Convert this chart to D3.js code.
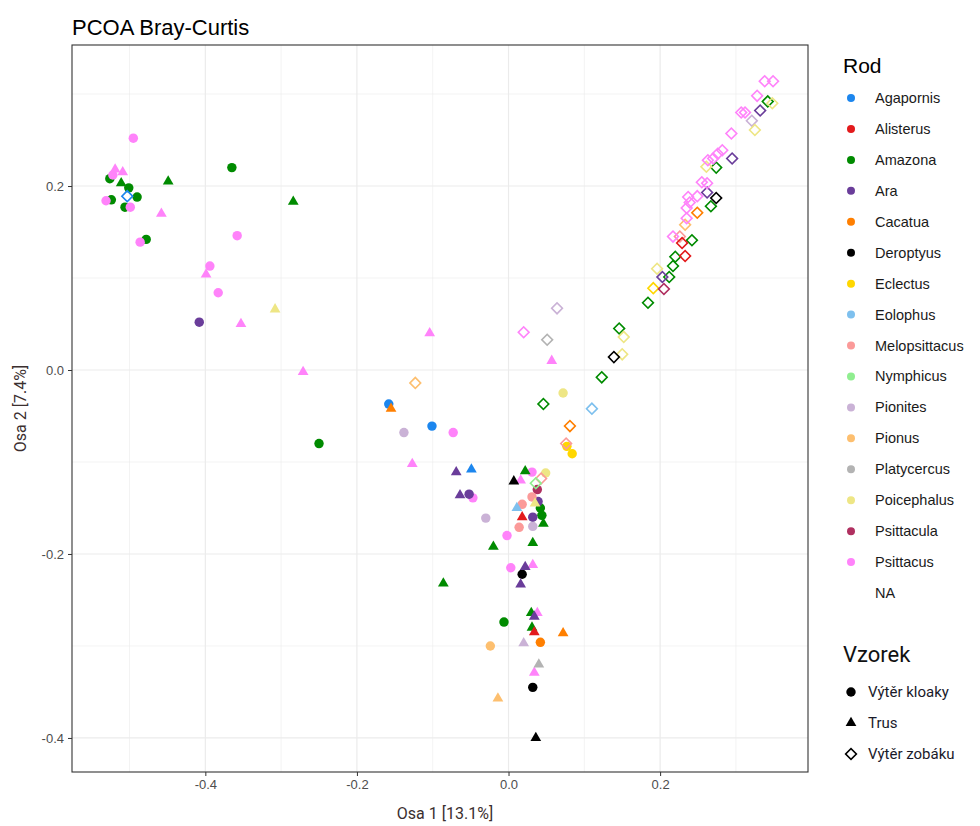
<!DOCTYPE html>
<html>
<head>
<meta charset="utf-8">
<script src="https://cdn.jsdelivr.net/npm/d3@7/dist/d3.min.js"></script>
<style>
  body { margin: 0; background: #fff; }
  svg { display: block; }
</style>
</head>
<body>
<svg id="chart" width="980" height="826"></svg>
<script>
// ---- Categories ----
const genera = ["Agapornis","Alisterus","Amazona","Ara","Cacatua","Deroptyus","Eclectus","Eolophus","Melopsittacus","Nymphicus","Pionites","Pionus","Platycercus","Poicephalus","Psittacula","Psittacus","NA"];
const genusColors = ["#1C86EE","#E31A1C","#008B00","#6A3D9A","#FF7F00","#000000","#FFD700","#7EC0EE","#FB9A99","#90EE90","#CAB2D6","#FDBF6F","#B3B3B3","#EEE685","#B03060","#FF83FA",null];
const sampleTypes = ["Výtěr kloaky","Trus","Výtěr zobáku"];
const xTicks = [-0.4,-0.2,0.0,0.2];
const yTicks = [-0.4,-0.2,0.0,0.2];

// ---- Points: [genus, Osa 1, Osa 2] ----
const cloacaPoints = [
  ["Amazona",-0.526,0.208],["Amazona",-0.501,0.198],["Amazona",-0.490,0.188],["Amazona",-0.524,0.185],
  ["Amazona",-0.506,0.177],["Amazona",-0.365,0.220],["Amazona",-0.478,0.142],["Amazona",-0.250,-0.080],
  ["Amazona",-0.006,-0.274],["Amazona",0.042,-0.150],["Amazona",0.044,-0.158],
  ["Psittacus",-0.495,0.252],["Psittacus",-0.522,0.212],["Psittacus",-0.531,0.184],["Psittacus",-0.499,0.177],
  ["Psittacus",-0.486,0.139],["Psittacus",-0.358,0.146],["Psittacus",-0.394,0.113],["Psittacus",-0.383,0.084],
  ["Psittacus",-0.073,-0.068],["Psittacus",-0.047,-0.139],["Psittacus",-0.002,-0.180],["Psittacus",0.003,-0.215],
  ["Psittacus",0.031,-0.111],
  ["Ara",-0.408,0.052],["Ara",-0.052,-0.135],["Ara",0.039,-0.143],["Ara",0.032,-0.160],
  ["Agapornis",-0.158,-0.037],["Agapornis",-0.101,-0.061],
  ["Pionites",-0.138,-0.068],["Pionites",-0.030,-0.161],["Pionites",0.032,-0.170],
  ["Poicephalus",0.072,-0.025],["Poicephalus",0.049,-0.112],
  ["Eclectus",0.077,-0.083],["Eclectus",0.084,-0.091],
  ["Psittacula",0.038,-0.130],
  ["Melopsittacus",0.031,-0.138],["Melopsittacus",0.018,-0.146],["Melopsittacus",0.014,-0.171],
  ["Deroptyus",0.018,-0.222],["Deroptyus",0.032,-0.345],
  ["Pionus",-0.024,-0.300],
  ["Cacatua",0.042,-0.296]
];
const fecesPoints = [
  ["Psittacus",-0.519,0.218],["Psittacus",-0.509,0.215],["Psittacus",-0.458,0.170],["Psittacus",-0.399,0.104],
  ["Psittacus",-0.353,0.050],["Psittacus",-0.271,-0.002],["Psittacus",-0.104,0.040],["Psittacus",0.057,0.010],
  ["Psittacus",-0.127,-0.102],["Psittacus",0.016,-0.120],["Psittacus",0.032,-0.212],["Psittacus",0.038,-0.264],
  ["Psittacus",0.034,-0.329],
  ["Amazona",-0.511,0.203],["Amazona",-0.449,0.205],["Amazona",-0.284,0.183],["Amazona",0.022,-0.110],
  ["Amazona",0.046,-0.167],["Amazona",0.032,-0.188],["Amazona",-0.020,-0.192],["Amazona",-0.086,-0.232],
  ["Amazona",0.030,-0.264],["Amazona",0.031,-0.280],
  ["Poicephalus",-0.308,0.066],["Poicephalus",0.035,-0.145],
  ["Cacatua",-0.155,-0.042],["Cacatua",0.072,-0.286],
  ["Ara",-0.069,-0.111],["Ara",-0.064,-0.136],["Ara",0.022,-0.214],["Ara",0.016,-0.233],["Ara",0.034,-0.268],
  ["Agapornis",-0.049,-0.108],
  ["Deroptyus",0.007,-0.121],["Deroptyus",0.036,-0.400],
  ["Eolophus",0.011,-0.150],
  ["Alisterus",0.018,-0.160],["Alisterus",0.034,-0.285],
  ["Pionites",0.020,-0.297],
  ["Platycercus",0.040,-0.320],
  ["Pionus",-0.014,-0.357]
];
const beakPoints = [
  ["Agapornis",-0.503,0.189],
  ["Pionus",-0.123,-0.014],["Pionus",0.233,0.158],
  ["Pionites",0.064,0.067],["Pionites",0.321,0.271],
  ["Platycercus",0.051,0.033],
  ["Amazona",0.046,-0.037],["Amazona",0.146,0.045],["Amazona",0.123,-0.008],["Amazona",0.220,0.123],
  ["Amazona",0.217,0.113],["Amazona",0.212,0.101],["Amazona",0.184,0.073],["Amazona",0.242,0.141],
  ["Amazona",0.267,0.178],["Amazona",0.274,0.220],["Amazona",0.342,0.292],
  ["Poicephalus",0.152,0.036],["Poicephalus",0.150,0.017],["Poicephalus",0.196,0.110],["Poicephalus",0.261,0.221],
  ["Poicephalus",0.348,0.290],["Poicephalus",0.325,0.261],
  ["Deroptyus",0.139,0.014],["Deroptyus",0.274,0.187],
  ["Eolophus",0.110,-0.042],
  ["Cacatua",0.081,-0.061],["Cacatua",0.249,0.171],
  ["Melopsittacus",0.076,-0.080],["Melopsittacus",0.226,0.145],["Melopsittacus",0.043,-0.118],
  ["Nymphicus",0.036,-0.123],
  ["Eclectus",0.191,0.089],
  ["Psittacula",0.205,0.088],
  ["Alisterus",0.229,0.138],["Alisterus",0.233,0.124],
  ["Ara",0.203,0.101],["Ara",0.262,0.193],["Ara",0.332,0.282],["Ara",0.295,0.230],
  ["Psittacus",0.020,0.041],["Psittacus",0.255,0.204],["Psittacus",0.262,0.203],["Psittacus",0.249,0.189],
  ["Psittacus",0.239,0.182],["Psittacus",0.235,0.176],["Psittacus",0.235,0.165],["Psittacus",0.217,0.145],
  ["Psittacus",0.338,0.314],["Psittacus",0.349,0.314],["Psittacus",0.328,0.298],["Psittacus",0.307,0.280],
  ["Psittacus",0.312,0.280],["Psittacus",0.294,0.257],["Psittacus",0.282,0.239],["Psittacus",0.276,0.235],
  ["Psittacus",0.270,0.230],["Psittacus",0.263,0.228],["Psittacus",0.237,0.188]
];

// ---- Layout ----
const svg = d3.select("#chart");
const P = {left: 72, top: 45, right: 808, bottom: 772};
const x = d3.scaleLinear().domain([-0.5759, 0.3951]).range([P.left, P.right]);
const y = d3.scaleLinear().domain([-0.4370, 0.3533]).range([P.bottom, P.top]);
const color = d3.scaleOrdinal().domain(genera).range(genusColors);

// Title
svg.append("text").attr("x", 72).attr("y", 35)
  .attr("font-family", "Liberation Sans, Arial, sans-serif").attr("font-size", 22)
  .attr("fill", "#000").text("PCOA Bray-Curtis");

// Panel background & grid
const g = svg.append("g");
g.append("rect").attr("x", P.left).attr("y", P.top).attr("width", P.right - P.left).attr("height", P.bottom - P.top).attr("fill", "#fff");
const xMinor = [-0.5,-0.3,-0.1,0.1,0.3];
const yMinor = [-0.3,-0.1,0.1,0.3];
g.selectAll(".xminor").data(xMinor).join("line")
  .attr("x1", d => x(d)).attr("x2", d => x(d)).attr("y1", P.top).attr("y2", P.bottom)
  .attr("stroke", "#ebebeb").attr("stroke-width", 0.6);
g.selectAll(".yminor").data(yMinor).join("line")
  .attr("y1", d => y(d)).attr("y2", d => y(d)).attr("x1", P.left).attr("x2", P.right)
  .attr("stroke", "#ebebeb").attr("stroke-width", 0.6);
g.selectAll(".xmajor").data(xTicks).join("line")
  .attr("x1", d => x(d)).attr("x2", d => x(d)).attr("y1", P.top).attr("y2", P.bottom)
  .attr("stroke", "#ebebeb").attr("stroke-width", 1.2);
g.selectAll(".ymajor").data(yTicks).join("line")
  .attr("y1", d => y(d)).attr("y2", d => y(d)).attr("x1", P.left).attr("x2", P.right)
  .attr("stroke", "#ebebeb").attr("stroke-width", 1.2);

// Axes
const fmt = d => d3.format(".1f")(d).replace("−", "-");
const xAxis = svg.append("g").attr("transform", `translate(0,${P.bottom})`)
  .call(d3.axisBottom(x).tickValues(xTicks).tickFormat(fmt).tickSize(4).tickPadding(4));
const yAxis = svg.append("g").attr("transform", `translate(${P.left},0)`)
  .call(d3.axisLeft(y).tickValues(yTicks).tickFormat(fmt).tickSize(4).tickPadding(4));
[xAxis, yAxis].forEach(a => {
  a.select(".domain").remove();
  a.selectAll(".tick line").attr("stroke", "#333");
  a.selectAll(".tick text").attr("fill", "#4d4d4d").attr("font-size", 13)
    .attr("font-family", "Liberation Sans, Arial, sans-serif");
});

// Points
const sym = {
  "Výtěr kloaky": d3.symbol().type(d3.symbolCircle).size(70),
  "Trus": d3.symbol().type(d3.symbolTriangle).size(50),
  "Výtěr zobáku": d3.symbol().type(d3.symbolSquare).size(58)
};
const layer = svg.append("g");
function drawPoints(data, type) {
  const hollow = type === "Výtěr zobáku";
  layer.append("g").selectAll("path").data(data).join("path")
    .attr("d", sym[type]())
    .attr("transform", d => `translate(${x(d[1])},${y(d[2])})` + (hollow ? " rotate(45)" : ""))
    .attr("fill", d => hollow ? "none" : color(d[0]))
    .attr("stroke", d => hollow ? color(d[0]) : "none")
    .attr("stroke-width", hollow ? 1.6 : 0);
}
drawPoints(cloacaPoints, "Výtěr kloaky");
drawPoints(fecesPoints, "Trus");
drawPoints(beakPoints, "Výtěr zobáku");

// Panel border
svg.append("rect").attr("x", P.left).attr("y", P.top).attr("width", P.right - P.left).attr("height", P.bottom - P.top)
  .attr("fill", "none").attr("stroke", "#333").attr("stroke-width", 1.1);

// Axis titles
svg.append("text").attr("x", 445).attr("y", 819).attr("text-anchor", "middle")
  .attr("font-family", "Roboto, sans-serif").attr("font-size", 16).attr("fill", "#3b2f2f")
  .text("Osa 1 [13.1%]");
svg.append("text").attr("transform", `translate(26,${(P.top + P.bottom) / 2}) rotate(-90)`).attr("text-anchor", "middle")
  .attr("font-family", "Roboto, sans-serif").attr("font-size", 16).attr("fill", "#3b2f2f")
  .text("Osa 2  [7.4%]");

// Legend: Rod
const lg = svg.append("g");
lg.append("text").attr("x", 843).attr("y", 73).attr("font-family", "Liberation Sans, Arial, sans-serif")
  .attr("font-size", 21).attr("fill", "#000").text("Rod");
const rowY = d3.scalePoint().domain(genera).range([98, 593]);
const rows = lg.selectAll(".row").data(genera).join("g").attr("transform", d => `translate(0,${rowY(d)})`);
rows.filter(d => color(d)).append("circle").attr("cx", 851).attr("cy", 0).attr("r", 4).attr("fill", d => color(d));
rows.append("text").attr("x", 875).attr("y", 5).attr("font-family", "Liberation Sans, Arial, sans-serif")
  .attr("font-size", 14.5).attr("fill", "#1a1a1a").text(d => d);

// Legend: Vzorek
svg.append("text").attr("x", 843).attr("y", 662).attr("font-family", "Roboto, sans-serif")
  .attr("font-size", 22).attr("fill", "#111").text("Vzorek");
const vY = d3.scalePoint().domain(sampleTypes).range([692, 754]);
const vr = svg.selectAll(".vrow").data(sampleTypes).join("g").attr("transform", d => `translate(0,${vY(d)})`);
vr.append("path").attr("d", d => sym[d]())
  .attr("transform", d => `translate(851,0)` + (d === "Výtěr zobáku" ? " rotate(45)" : ""))
  .attr("fill", d => d === "Výtěr zobáku" ? "none" : "#000")
  .attr("stroke", d => d === "Výtěr zobáku" ? "#000" : "none").attr("stroke-width", 1.6);
vr.append("text").attr("x", 868).attr("y", 5).attr("font-family", "Roboto, sans-serif")
  .attr("font-size", 15).attr("fill", "#1a1a2a").text(d => d);
</script>
</body>
</html>
